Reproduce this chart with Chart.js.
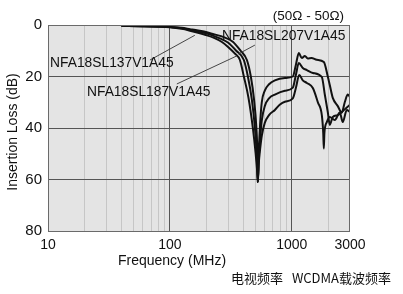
<!DOCTYPE html>
<html><head><meta charset="utf-8">
<script src="https://cdn.jsdelivr.net/npm/chart.js@4"></script>
<style>html,body{margin:0;padding:0;background:#fff}#w{width:403px;height:294px;position:relative}</style>
</head><body><div id="w"><canvas id="c"></canvas></div>
<script>
// ---- data ----
const freq137 = [40,60,80,100,125,146,170,194,230,267,300,340,375,404,440,479,505,520,526,535,550,567,600,650,726,795,877,1019,1079,1150,1230,1328,1487,1634,1762,1810,1829,1850,1936,2047,2250,2474,2617,2823,3000];
const loss137 = [0.3,0.45,0.65,0.9,1.5,2.2,3.0,3.8,5.0,6.6,8.5,11,13.6,20,28,40,50,57,61,54,48,43,38,35,33,31,29.8,28.5,24.5,19.4,21.5,22.5,24.5,30,35,42,48,42,37.7,35.7,36.9,34,37.7,33,33.8];
const freq187 = [40,60,80,100,125,146,170,194,221,260,299,350,404,436,470,498,515,526,535,550,567,600,650,726,877,1019,1079,1141,1230,1328,1487,1762,1864,1972,2047,2167,2382,2569,2823,3000];
const loss187 = [0.3,0.45,0.6,0.8,1.3,1.9,2.5,3.1,4.0,5.3,6.8,10,13.6,20,29,40,50,61,52,44,37,31.5,28.5,27,25.5,24.3,19.4,14.8,16.7,17.5,18.6,20.2,27,33.8,38.8,35.7,35,33.8,32,31];
const freq207 = [40,60,80,100,125,146,170,194,221,280,328,380,428,461,490,512,522,526,535,550,567,600,650,726,877,1019,1079,1141,1208,1279,1350,1450,1600,1830,1972,2047,2167,2382,2569,2717,2877,3000];
const loss207 = [0.3,0.45,0.6,0.8,1.1,1.6,2.1,2.6,3.4,4.8,6.5,10,13.6,20,29,40,50,61,50,38,30,25.5,23,21.5,20.6,20,15.5,10.9,12.8,12,13,12.8,13.5,14.4,20,23.3,28.3,31.5,34,30,27,28];
const seriesNames = ['NFA18SL137V1A45','NFA18SL187V1A45','NFA18SL207V1A45'];
const yTicks = [0,20,40,60,80];
const xGrid = [10,20,30,40,50,60,70,80,90,100,200,300,400,500,600,700,800,900,1000,2000,3000];
const xTickLabels = [10,100,1000,3000];
const yTitle = 'Insertion Loss (dB)';
const xTitle = 'Frequency (MHz)';
const impedanceNote = '(50Ω - 50Ω)';
const captionTV = '电视频率';
const captionWCDMA = 'WCDMA载波频率';
// label anchors (freq, dB) and leader lines [f1,dB1,f2,dB2]
const labelAnchors = [[10.4,14.8],[20.9,26],[267,4.3]];
const leaders = [[68.6,13.6,160,4.0],[114,22.9,354,12],[498,7.8,363,11.3]];

const pts = (f,l)=>f.map((v,i)=>({x:v,y:l[i]}));
const FONT = '"Liberation Sans", Arial, sans-serif';

const deco = {
  id:'deco',
  beforeDraw(chart){
    const {ctx, chartArea:a} = chart;
    ctx.save();
    ctx.fillStyle = '#e4e4e4';
    ctx.fillRect(a.left,a.top,a.right-a.left,a.bottom-a.top);
    ctx.restore();
  },
  afterDatasetsDraw(chart){
    const {ctx, chartArea:a, scales} = chart;
    const X = scales.x, Y = scales.y;
    ctx.save();
    ctx.strokeStyle = '#6a6a6a'; ctx.lineWidth = 1;
    ctx.strokeRect(a.left+0.5, a.top+0.5, a.right-a.left-1, a.bottom-a.top);
    // leaders
    ctx.strokeStyle = '#333'; ctx.lineWidth = 0.9;
    leaders.forEach(l=>{
      ctx.beginPath();
      ctx.moveTo(X.getPixelForValue(l[0]), Y.getPixelForValue(l[1]));
      ctx.lineTo(X.getPixelForValue(l[2]), Y.getPixelForValue(l[3]));
      ctx.stroke();
    });
    // labels
    ctx.fillStyle = '#111';
    ctx.font = '13.8px ' + FONT;
    ctx.textBaseline = 'middle'; ctx.textAlign = 'left';
    seriesNames.forEach((n,i)=>{
      ctx.fillText(n, X.getPixelForValue(labelAnchors[i][0]), Y.getPixelForValue(labelAnchors[i][1]));
    });
    ctx.restore();
  },
  afterDraw(chart){
    const {ctx, chartArea:a} = chart;
    ctx.save();
    ctx.fillStyle = '#111';
    ctx.textBaseline = 'middle';
    ctx.font = '13.5px ' + FONT;
    ctx.textAlign = 'right';
    ctx.fillText(impedanceNote, 344, 16);
    ctx.font = '14px ' + FONT;
    ctx.textAlign = 'center';
    ctx.fillText(xTitle, 172, 261);
    ctx.translate(13, 132);
    ctx.rotate(-Math.PI/2);
    ctx.font = '14px ' + FONT;
    ctx.fillText(yTitle, 0, 0);
    ctx.restore();
    ctx.save();
    ctx.fillStyle = '#111';
    ctx.font = '13px "Noto Sans CJK SC", sans-serif';
    ctx.textBaseline = 'middle'; ctx.textAlign = 'left';
    ctx.fillText(captionTV, 231, 278);
    ctx.fillText(captionWCDMA, 292, 278);
    ctx.restore();
  }
};

const ds = (name,f,l)=>({label:name, data:pts(f,l), borderColor:'#111', borderWidth:2, pointRadius:0, fill:false, cubicInterpolationMode:'monotone'});

new Chart(document.getElementById('c'), {
  type:'line',
  data:{datasets:[ds(seriesNames[0],freq137,loss137), ds(seriesNames[1],freq187,loss187), ds(seriesNames[2],freq207,loss207)]},
  options:{
    responsive:true, maintainAspectRatio:false, animation:false,
    layout:{padding:{left:0,top:25,right:53,bottom:0}},
    plugins:{legend:{display:false}, tooltip:{enabled:false}},
    scales:{
      x:{type:'logarithmic', min:10, max:3000,
        afterBuildTicks(s){ s.ticks = xGrid.map(v=>({value:v})); },
        afterFit(s){ s.height = 63; },
        grid:{drawTicks:false, color:c=>{const v=c.tick&&c.tick.value; if(v===100||v===1000) return '#555'; if(v===10||v===3000) return 'rgba(0,0,0,0)'; return '#c6c6c6';}, lineWidth:1},
        border:{display:false},
        ticks:{autoSkip:false, maxRotation:0, padding:6, color:'#111', font:{family:FONT, size:14},
          callback:(v)=> xTickLabels.includes(v) ? String(v) : ''}
      },
      y:{type:'linear', reverse:true, min:0, max:80,
        afterBuildTicks(s){ s.ticks = yTicks.map(v=>({value:v})); },
        afterFit(s){ s.width = 48; },
        grid:{drawTicks:false, color:c=>{const v=c.tick&&c.tick.value; return (v===0||v===80)?'rgba(0,0,0,0)':'#555';}},
        border:{display:false},
        ticks:{padding:6, color:'#111', font:{family:FONT, size:15}}
      }
    }
  },
  plugins:[deco]
});
</script></body></html>
